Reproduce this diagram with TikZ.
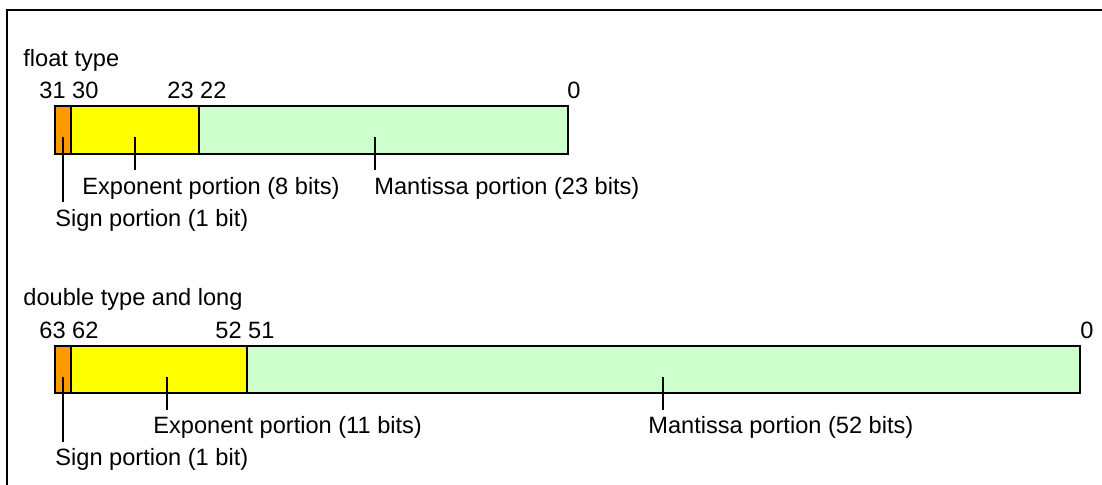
\documentclass[tikz,border=0pt]{standalone}
\usepackage{fontspec}
\setmainfont{Liberation Sans}
\definecolor{signc}{HTML}{FF9900}
\definecolor{expc}{HTML}{FFFF00}
\definecolor{mantc}{HTML}{CCFFCC}
\tikzset{
  seg/.style={draw=black, line width=1pt},
  lbl/.style={inner sep=0pt, anchor=base west, font=\fontsize{11.8}{14}\selectfont},
  leader/.style={draw=black, line width=0.75pt},
}
\begin{document}
\begin{tikzpicture}[x=0.5pt,y=-0.5pt]
\useasboundingbox (0,0) rectangle (1102,484);
\fill[white] (0,0) rectangle (1102,484);
% frame
\draw[line width=1pt] (7,490) -- (7,9.5) -- (1110,9.5);

% ---------- float ----------
\node[lbl] (ftitle) at (23,66) {float type};
\node[lbl] (fb1) at (39,98) {31 30};
\node[lbl] (fb2) at (167,98) {23 22};
\node[lbl] (fb3) at (567,98) {0};
\path[seg, fill=mantc] (199,106) rectangle (568,154);
\path[seg, fill=expc] (71,106) rectangle (199,154);
\path[seg, fill=signc] (55,106) rectangle (71,154);
\coordinate (fs1) at (63,137);   \coordinate (fs2) at (63,202);
\coordinate (fe1) at (135,137);  \coordinate (fe2) at (135,170);
\coordinate (fm1) at (375,137);  \coordinate (fm2) at (375,170);
\node[lbl] (fexp) at (82,194) {Exponent portion (8 bits)};
\node[lbl] (fman) at (374,194) {Mantissa portion (23 bits)};
\node[lbl] (fsig) at (55,226) {Sign portion (1 bit)};
\draw[leader] (fs1) -- (fs2);
\draw[leader] (fe1) -- (fe2);
\draw[leader] (fm1) -- (fm2);

% ---------- double ----------
\node[lbl] (dtitle) at (23,305) {double type and long};
\node[lbl] (db1) at (39,338) {63 62};
\node[lbl] (db2) at (215,338) {52 51};
\node[lbl] (db3) at (1080,338) {0};
\path[seg, fill=mantc] (247,346) rectangle (1080,393);
\path[seg, fill=expc] (71,346) rectangle (247,393);
\path[seg, fill=signc] (55,346) rectangle (71,393);
\coordinate (ds1) at (63,377);   \coordinate (ds2) at (63,442);
\coordinate (de1) at (167,377);  \coordinate (de2) at (167,410);
\coordinate (dm1) at (663,377);  \coordinate (dm2) at (663,410);
\node[lbl] (dexp) at (153,433) {Exponent portion (11 bits)};
\node[lbl] (dman) at (648,433) {Mantissa portion (52 bits)};
\node[lbl] (dsig) at (55,465) {Sign portion (1 bit)};
\draw[leader] (ds1) -- (ds2);
\draw[leader] (de1) -- (de2);
\draw[leader] (dm1) -- (dm2);
\end{tikzpicture}
\end{document}
